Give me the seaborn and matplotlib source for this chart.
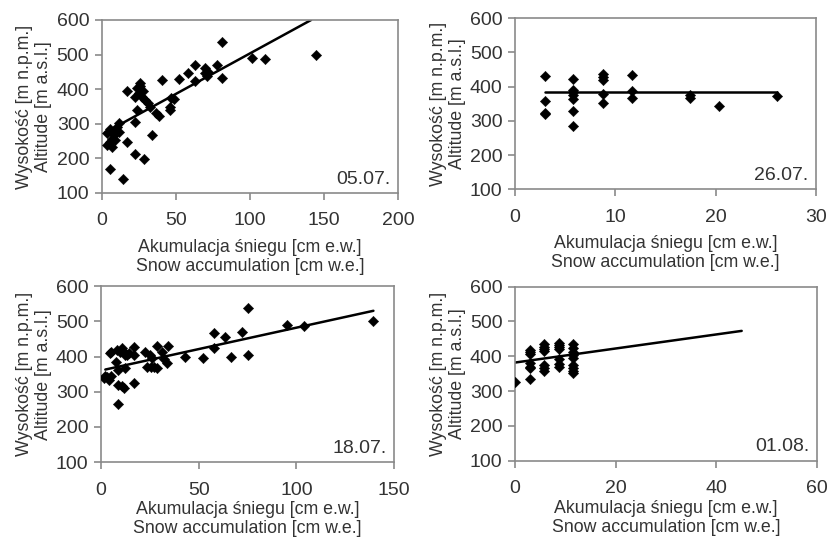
import matplotlib
matplotlib.use("Agg")
import matplotlib.pyplot as plt
import seaborn as sns
import pandas as pd

# ---------------- data ----------------
# Panel 05.07.
x_0507 = [5.6, 14.6, 17.3, 22.5, 28.6, 34.2, 17.3, 25.5, 23.6, 24.8, 22.5, 27.0, 29.3,
          23.6, 22.5, 31.5, 32.7, 36.3, 38.5, 40.5, 46.2, 46.2, 48.9, 46.6, 52.3, 58.1,
          63.1, 63.1, 69.4, 69.8, 72.0, 71.0, 78.0, 81.0, 81.0, 101.6, 110.0, 144.4,
          3.4, 5.6, 6.8, 7.9, 5.6, 9.0, 11.3, 11.3, 10.1, 6.8, 3.4, 9.0, 26.0, 28.0]
y_0507 = [170, 141, 248, 214, 197, 267, 395, 417, 402, 388, 378, 378, 368,
          339, 306, 359, 349, 330, 322, 426, 349, 339, 373, 375, 429, 446,
          470, 424, 460, 446, 450, 438, 470, 537, 433, 491, 487, 500,
          238, 248, 257, 267, 286, 277, 277, 301, 291, 233, 272, 252, 410, 395]
fit_x_0507 = [2.0, 141.4]
fit_y_0507 = [274, 600]

# Panel 26.07.
x_2607 = [3, 3, 3, 3, 5.8, 5.8, 5.8, 5.8, 5.8, 5.8, 5.8, 8.8, 8.8, 8.8, 8.8, 8.8,
          11.7, 11.7, 11.7, 17.4, 17.4, 20.3, 26.1]
y_2607 = [431, 358, 324, 320, 423, 390, 383, 376, 363, 330, 286, 437, 427, 420, 378, 351,
          435, 386, 368, 376, 368, 344, 373]
fit_x_2607 = [3.0, 26.1]
fit_y_2607 = [383, 383]

# Panel 18.07.
x_1807 = [2.2, 3.1, 1.4, 3.9, 5.3, 4.8, 5.3, 8.2, 7.7, 8.7, 8.7, 10.7, 11.6, 8.7, 9.9,
          10.7, 11.6, 12.4, 13.3, 14.1, 12.1, 16.7, 16.7, 17.0, 22.7, 25.2, 26.1, 23.5,
          25.7, 26.9, 28.6, 28.6, 31.2, 32.0, 33.7, 34.3, 43.1, 52.0, 57.6, 57.6, 63.2,
          66.5, 72.1, 75.0, 75.0, 95.4, 104.1, 139.4]
y_1807 = [345, 341, 338, 333, 345, 409, 414, 419, 385, 362, 319, 315, 310, 264, 414,
          423, 414, 404, 404, 409, 367, 426, 404, 326, 414, 404, 395, 371,
          371, 371, 368, 430, 414, 392, 383, 430, 400, 397, 466, 423, 456,
          400, 469, 537, 404, 491, 487, 501]
fit_x_1807 = [2.2, 139.4]
fit_y_1807 = [363, 530]

# Panel 01.08.
x_0108 = [0, 3, 3, 3, 3, 3, 3, 3, 5.8, 5.8, 5.8, 5.8, 5.8, 5.8, 5.8,
          8.8, 8.8, 8.8, 8.8, 8.8, 8.8, 8.8, 11.6, 11.6, 11.6, 11.6, 11.6, 11.6, 11.6, 11.6, 11.6]
y_0108 = [327, 418, 413, 408, 382, 370, 365, 334, 435, 428, 421, 415, 375, 365, 358,
          439, 433, 428, 422, 391, 377, 368, 435, 423, 411, 404, 394, 375, 365, 358, 351]
fit_x_0108 = [0.0, 45.0]
fit_y_0108 = [382, 473]

dates = ["05.07.", "26.07.", "18.07.", "01.08."]
x_limits = [(0, 200), (0, 30), (0, 150), (0, 60)]
x_ticks = [[0, 50, 100, 150, 200], [0, 10, 20, 30], [0, 50, 100, 150], [0, 20, 40, 60]]
y_ticks = [100, 200, 300, 400, 500, 600]

xlabel = "Akumulacja śniegu [cm e.w.]\nSnow accumulation [cm w.e.]"
ylabel = "Wysokość [m n.p.m.]\nAltitude [m a.s.l.]"

panels = [
    (x_0507, y_0507, fit_x_0507, fit_y_0507),
    (x_2607, y_2607, fit_x_2607, fit_y_2607),
    (x_1807, y_1807, fit_x_1807, fit_y_1807),
    (x_0108, y_0108, fit_x_0108, fit_y_0108),
]

# ---------------- style ----------------
sns.set_style("white")
plt.rcParams["font.family"] = ["Liberation Sans", "DejaVu Sans"]
text_col = "#333333"
frame_col = "#8a8a8a"

fig = plt.figure(figsize=(8.28, 5.43), dpi=100)
positions = [
    [0.123, 0.6446, 0.3575, 0.3186],
    [0.622, 0.6514, 0.3635, 0.315],
    [0.122, 0.149, 0.354, 0.324],
    [0.622, 0.1516, 0.365, 0.3204],
]

for i, (xs, ys, fx, fy) in enumerate(panels):
    ax = fig.add_axes(positions[i])
    df = pd.DataFrame({"x": xs, "y": ys})
    dfit = pd.DataFrame({"x": fx, "y": fy})
    sns.lineplot(data=dfit, x="x", y="y", ax=ax, color="black", linewidth=1.8, zorder=2)
    sns.scatterplot(data=df, x="x", y="y", ax=ax, marker="D", s=28, color="black",
                    edgecolor="black", linewidth=0.3, zorder=3)
    ax.set_xlim(*x_limits[i])
    ax.set_ylim(100, 600)
    ax.set_xticks(x_ticks[i])
    ax.set_yticks(y_ticks)
    ax.set_xlabel(xlabel, fontsize=12.8, color=text_col, linespacing=1.15,
                  labelpad=7 if i < 2 else 2)
    ax.set_ylabel(ylabel, fontsize=12.8, color=text_col, linespacing=1.15, labelpad=3)
    for s in ax.spines.values():
        s.set_color(frame_col)
        s.set_linewidth(1.2)
    ax.tick_params(axis="both", which="major", bottom=True, left=True,
                   direction="out", length=5, width=1.2, color=frame_col,
                   labelsize=14, labelcolor=text_col, pad=4)
    ax.tick_params(axis="x", pad=9)
    ax.text(0.975, 0.03, dates[i], transform=ax.transAxes, ha="right", va="bottom",
            fontsize=14, color=text_col)

fig.savefig("out.png", dpi=100, facecolor="white")
